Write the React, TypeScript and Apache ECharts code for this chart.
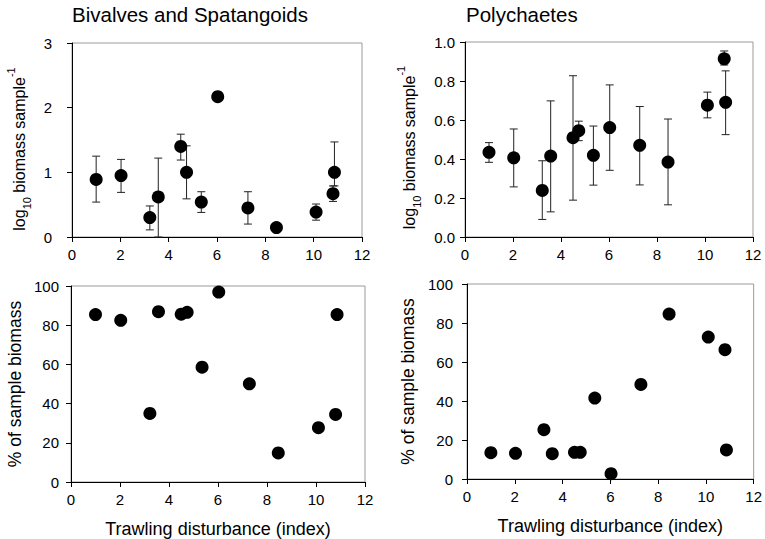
import React, { useEffect, useRef } from "react";
import * as echarts from "echarts";

// Trawling disturbance index of each station (shared by all panels)
const disturbance = [1.0, 2.03, 3.22, 3.57, 4.5, 4.74, 5.35, 6.03, 7.28, 8.46, 10.1, 10.8, 10.86];

// Bivalves and Spatangoids: log10 biomass sample^-1 with error bar bounds
const bivLog = [0.89, 0.95, 0.3, 0.62, 1.4, 1.0, 0.54, 2.17, 0.45, 0.145, 0.385, 0.67, 1.0];
const bivLo = [0.54, 0.69, 0.11, 0, 1.19, 0.59, 0.38, null, 0.2, null, 0.26, 0.55, 0.79];
const bivHi = [1.25, 1.2, 0.48, 1.22, 1.59, 1.41, 0.7, null, 0.7, null, 0.51, 0.79, 1.47];
// Bivalves and Spatangoids: % of sample biomass
const bivPct = [85.4, 82.5, 35, 86.9, 85.6, 86.6, 58.6, 96.9, 50.1, 14.8, 27.7, 34.5, 85.4];

// Polychaetes: log10 biomass sample^-1 with error bar bounds
const polyLog = [0.434, 0.406, 0.239, 0.415, 0.509, 0.545, 0.419, 0.561, 0.47, 0.384, 0.676, 0.914, 0.691];
const polyLo = [0.383, 0.257, 0.09, 0.129, 0.189, 0.494, 0.266, 0.342, 0.267, 0.165, 0.611, 0.882, 0.525];
const polyHi = [0.484, 0.554, 0.391, 0.698, 0.827, 0.594, 0.569, 0.78, 0.669, 0.605, 0.743, 0.954, 0.852];
// Polychaetes: % of sample biomass
const polyPct = [13.5, 13.2, 25.3, 13, 13.7, 13.7, 41.5, 2.7, 48.5, 84.6, 72.8, 66.3, 14.9];

const titles = ["Bivalves and Spatangoids", "Polychaetes"];
const xName = "Trawling disturbance (index)";
const pctName = "% of sample biomass";

const FONT = "'Liberation Sans', Arial, Helvetica, sans-serif";

export default function App() {
  const ref = useRef<HTMLDivElement>(null);
  useEffect(() => {
    if (!ref.current) return;
    const chart = echarts.init(ref.current, undefined, { renderer: "svg" });

    const pts = (ys: number[]) => disturbance.map((x, i) => [x, ys[i]]);
    const errs = (lo: (number | null)[], hi: (number | null)[]) =>
      disturbance
        .map((x, i) => [x, lo[i], hi[i]])
        .filter((d) => d[1] != null && d[2] != null);

    const renderErr = (params: any, api: any) => {
      const x = api.value(0);
      const top = api.coord([x, api.value(2)]);
      const bot = api.coord([x, api.value(1)]);
      const w = 4;
      const style = { stroke: "#222", lineWidth: 1 };
      return {
        type: "group",
        children: [
          { type: "line", shape: { x1: top[0], y1: top[1], x2: bot[0], y2: bot[1] }, style },
          { type: "line", shape: { x1: top[0] - w, y1: top[1], x2: top[0] + w, y2: top[1] }, style },
          { type: "line", shape: { x1: bot[0] - w, y1: bot[1], x2: bot[0] + w, y2: bot[1] }, style },
        ],
      };
    };

    const logName = "{a|log}{sub|10}{a| biomass sample}{sup|-1}{sp| }";
    const makeRich = (fs: number, spacer: number) => ({
      a: { fontSize: fs, fontFamily: FONT, color: "#000", lineHeight: fs + 5, verticalAlign: "middle" },
      sub: { fontSize: Math.round(fs * 0.7), fontFamily: FONT, color: "#000", lineHeight: fs + 5, verticalAlign: "bottom", padding: [0, 0, -2, 0] },
      sup: { fontSize: Math.round(fs * 0.7), fontFamily: FONT, color: "#000", lineHeight: fs + 5, verticalAlign: "top", padding: [-4, 0, 0, 0] },
      sp: { fontSize: fs, width: spacer, lineHeight: fs + 5 },
    });

    const xAxisBase = (gridIndex: number, withName: boolean, gap: number) => ({
      type: "value",
      gridIndex,
      min: 0,
      max: 12,
      interval: 2,
      splitLine: { show: false },
      axisLine: { show: true, lineStyle: { color: "#000", width: 1 } },
      axisTick: { show: true, inside: false, length: 5, lineStyle: { color: "#000" } },
      axisLabel: { color: "#000", fontSize: 15, fontFamily: FONT, margin: 10 },
      name: withName ? xName : "",
      nameLocation: "middle",
      nameGap: gap,
      nameTextStyle: { color: "#000", fontSize: 18, fontFamily: FONT, verticalAlign: "top" },
    });

    const yAxisBase = (gridIndex: number, max: number, interval: number, decimals: number, margin: number, name: string, gap: number, rich?: any) => ({
      type: "value",
      gridIndex,
      min: 0,
      max,
      interval,
      splitLine: { show: false },
      axisLine: { show: true, lineStyle: { color: "#000", width: 1 } },
      axisTick: { show: true, inside: false, length: 5, lineStyle: { color: "#000" } },
      axisLabel: {
        color: "#000",
        fontSize: 15,
        fontFamily: FONT,
        margin,
        formatter: (v: number) => v.toFixed(decimals),
      },
      name,
      nameLocation: "middle",
      nameRotate: 90,
      nameGap: gap,
      nameTextStyle: rich
        ? { rich, color: "#000", fontSize: 16, fontFamily: FONT }
        : { color: "#000", fontSize: 17.5, fontFamily: FONT },
    });

    const gridStyle = { show: true, borderColor: "#9a9a9a", borderWidth: 1, backgroundColor: "transparent" };
    const dot = { color: "#000", opacity: 1 };

    chart.setOption({
      animation: false,
      backgroundColor: "#fff",
      title: [
        { text: titles[0], left: 72, top: 4, padding: 0, textStyle: { color: "#000", fontSize: 20.5, fontWeight: "normal", fontFamily: FONT } },
        { text: titles[1], left: 466, top: 4, padding: 0, textStyle: { color: "#000", fontSize: 20.5, fontWeight: "normal", fontFamily: FONT } },
      ],
      grid: [
        { left: 72, right: 403, top: 43, bottom: 302, ...gridStyle },
        { left: 465, right: 12, top: 42, bottom: 302, ...gridStyle },
        { left: 71, right: 400, top: 286, bottom: 57, ...gridStyle },
        { left: 467, right: 8, top: 284, bottom: 60, ...gridStyle },
      ],
      xAxis: [
        xAxisBase(0, false, 30),
        xAxisBase(1, false, 30),
        xAxisBase(2, true, 38),
        xAxisBase(3, true, 38),
      ],
      yAxis: [
        yAxisBase(0, 3, 1, 0, 20, logName, 42, makeRich(16, 18)),
        yAxisBase(1, 1, 0.2, 1, 10, logName, 45, makeRich(16, 16)),
        yAxisBase(2, 100, 20, 0, 12, pctName, 47),
        yAxisBase(3, 100, 20, 0, 14, pctName, 50),
      ],
      series: [
        {
          type: "custom",
          xAxisIndex: 0,
          yAxisIndex: 0,
          renderItem: renderErr,
          encode: { x: 0, y: [1, 2] },
          data: errs(bivLo, bivHi),
          z: 1,
        },
        {
          type: "custom",
          xAxisIndex: 1,
          yAxisIndex: 1,
          renderItem: renderErr,
          encode: { x: 0, y: [1, 2] },
          data: errs(polyLo, polyHi),
          z: 1,
        },
        { type: "scatter", xAxisIndex: 0, yAxisIndex: 0, data: pts(bivLog), symbolSize: 13, itemStyle: dot, z: 3 },
        { type: "scatter", xAxisIndex: 1, yAxisIndex: 1, data: pts(polyLog), symbolSize: 13, itemStyle: dot, z: 3 },
        { type: "scatter", xAxisIndex: 2, yAxisIndex: 2, data: pts(bivPct), symbolSize: 13, itemStyle: dot, z: 3 },
        { type: "scatter", xAxisIndex: 3, yAxisIndex: 3, data: pts(polyPct), symbolSize: 13, itemStyle: dot, z: 3 },
      ],
    });

    return () => chart.dispose();
  }, []);

  return (
    <div
      ref={ref}
      style={{ position: "absolute", left: 0, top: 0, width: 765, height: 539, background: "#fff" }}
    />
  );
}
